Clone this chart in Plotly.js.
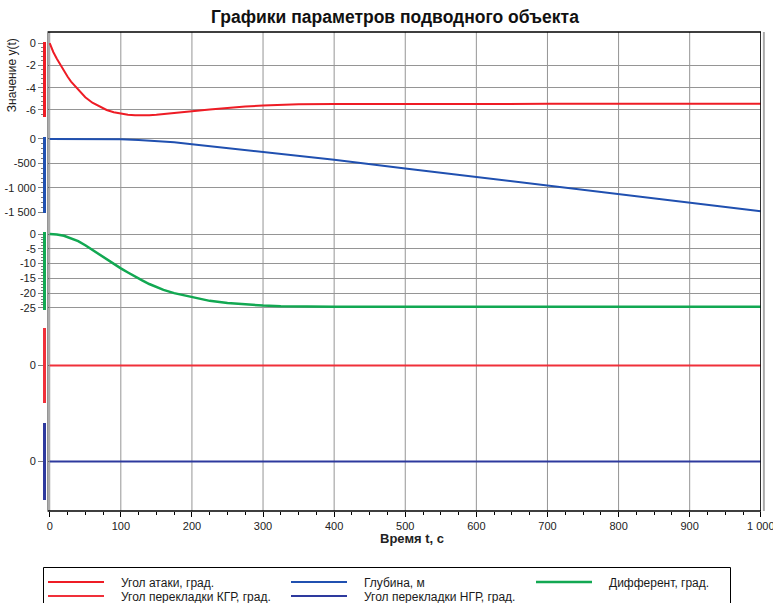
<!DOCTYPE html>
<html><head><meta charset="utf-8">
<script src="https://cdn.plot.ly/plotly-3.0.1.min.js"></script>
<style>html,body{margin:0;padding:0;background:#fff}#chart{width:773px;height:603px}</style>
</head><body><div id="chart"></div>
<script>
// ---- data ----
const tAttack = [0,5,10,15,20,25,30,40,50,60,70,80,90,100,110,120,130,140,150,175,200,225,250,275,300,325,350,400,450,500,600,700,800,900,1000];
const attack  = [0,-0.8,-1.4,-1.95,-2.5,-3.0,-3.45,-4.2,-4.85,-5.35,-5.7,-6.0,-6.2,-6.33,-6.42,-6.47,-6.48,-6.46,-6.42,-6.3,-6.12,-5.95,-5.8,-5.68,-5.6,-5.53,-5.49,-5.46,-5.45,-5.45,-5.45,-5.45,-5.45,-5.45,-5.45];
const tDepth = [0,25,50,75,100,125,150,175,200,225,250,275,300,350,400,500,600,700,800,900,1000];
const depth  = [0,0,-1,-3,-8,-20,-40,-70,-110,-150,-185,-218,-255,-340,-428,-603,-778,-953,-1128,-1303,-1478];
const tTrim = [0,10,20,30,40,50,60,70,80,90,100,110,120,130,140,150,160,175,200,225,250,275,300,325,350,400,500,600,700,800,900,1000];
const trim  = [0,-0.15,-0.6,-1.4,-2.4,-3.8,-5.4,-7.0,-8.6,-10.1,-11.6,-13.0,-14.4,-15.7,-16.9,-18.0,-18.9,-20.0,-21.3,-22.6,-23.3,-23.8,-24.2,-24.45,-24.55,-24.6,-24.6,-24.6,-24.6,-24.6,-24.6,-24.6];
const tRudder = [0,1000];
const kgr = [0,0];
const ngr = [0,0];

const xTickVals = [0,100,200,300,400,500,600,700,800,900,1000];
const xTickText = ["0","100","200","300","400","500","600","700","800","900","1 000"];
const y1TickVals = [0,-2,-4,-6];           const y1TickText = ["0","-2","-4","-6"];
const y2TickVals = [0,-500,-1000,-1500];   const y2TickText = ["0","-500","-1 000","-1 500"];
const y3TickVals = [0,-5,-10,-15,-20,-25]; const y3TickText = ["0","-5","-10","-15","-20","-25"];
const y4TickVals = [0]; const y4TickText = ["0"];
const y5TickVals = [0]; const y5TickText = ["0"];

const names = ["Угол атаки, град.","Глубина, м","Дифферент, град.","Угол перекладки КГР, град.","Угол перекладки НГР, град."];
const colors = ["#ee1c25","#2050b0","#12a852","#f0303a","#2e3a9e"];

const F = "Liberation Sans, Arial, sans-serif";
const traces = [
  {x:tAttack, y:attack, yaxis:"y",  name:names[0], legend:"legend",  line:{color:colors[0], width:2}},
  {x:tDepth,  y:depth,  yaxis:"y2", name:names[1], legend:"legend2", line:{color:colors[1], width:2}},
  {x:tTrim,   y:trim,   yaxis:"y3", name:names[2], legend:"legend3", line:{color:colors[2], width:2.5}},
  {x:tRudder, y:kgr,    yaxis:"y4", name:names[3], legend:"legend4", line:{color:colors[3], width:2}},
  {x:tRudder, y:ngr,    yaxis:"y5", name:names[4], legend:"legend5", line:{color:colors[4], width:2}}
].map(t => Object.assign({type:"scatter", mode:"lines", xaxis:"x", hoverinfo:"skip"}, t));

function yax(domain, range, color, tv, tt, minorDtick){
  const a = {domain:domain, range:range, anchor:"free", position:0, autorange:false,
    showline:true, linecolor:color, linewidth:3,
    ticks:"outside", ticklen:5, tickcolor:"#808080", tickwidth:1,
    tickmode:"array", tickvals:tv, ticktext:tt,
    tickfont:{family:F, size:11, color:"#222"},
    showgrid:true, gridcolor:"#959595", gridwidth:1, zeroline:false, fixedrange:true, automargin:false};
  if (minorDtick) a.minor = {ticks:"outside", ticklen:2, tickcolor:"#808080", dtick:minorDtick, tick0:0, showgrid:false};
  return a;
}

const xr = [-3, 1000.3];
const shapes = xTickVals.map(v => ({type:"line", xref:"x", yref:"paper", x0:v, x1:v, y0:0, y1:1, line:{color:"#959595", width:1}, layer:"below"}));
shapes.push({type:"rect", xref:"x", yref:"paper", x0:xr[0], x1:xr[1], y0:0, y1:1, line:{color:"#000", width:1.5}});
shapes.push({type:"line", xref:"paper", yref:"paper", x0:1.004, x1:1.004, y0:0, y1:1, line:{color:"#aaa", width:2}});
// legend frame (paper coords: plot area spans x 44..761, y 32..511 px)
shapes.push({type:"rect", xref:"paper", yref:"paper", x0:(43.5-44)/717, x1:(730.5-44)/717, y0:(511-620)/479, y1:(511-567.5)/479, line:{color:"#000", width:1}, fillcolor:"rgba(0,0,0,0)"});

function leg(xpx, rowY){
  return {orientation:"v", xref:"container", x:xpx/773, xanchor:"left", yref:"container", y:1-(rowY-12.5)/603, yanchor:"top",
    borderwidth:0, bgcolor:"rgba(0,0,0,0)", font:{family:F, size:12, color:"#1a1a1a"}, itemwidth:68, tracegroupgap:0};
}

const layout = {
  width:773, height:603,
  margin:{l:44, r:12, t:32, b:92, pad:0, autoexpand:false},
  paper_bgcolor:"#fff", plot_bgcolor:"#fff",
  showlegend:true,
  title:{text:"Графики параметров подводного объекта", font:{family:F, size:17.5, color:"#111", weight:"bold"},
         xref:"container", x:0.511, xanchor:"center", yref:"container", y:0.972, yanchor:"middle"},
  xaxis:{domain:[0.005,1], range:xr, anchor:"free", position:0, showgrid:false, zeroline:false,
    showline:false, ticks:"outside", ticklen:5, tickcolor:"#000", tickwidth:1,
    tickmode:"array", tickvals:xTickVals, ticktext:xTickText, ticklabeloverflow:"allow",
    tickfont:{family:F, size:11, color:"#222"}, automargin:false,
    minor:{ticks:"outside", ticklen:3, tickcolor:"#000", dtick:25, tick0:0, showgrid:false}, fixedrange:true},
  yaxis:  yax([0.8225,0.979], [-6.63,0.09], colors[0], y1TickVals, y1TickText, 0.4),
  yaxis2: yax([0.622,0.781],  [-1515,41],  colors[1], y2TickVals, y2TickText, 100),
  yaxis3: yax([0.4196,0.5825],[-25.7,0.7], colors[2], y3TickVals, y3TickText, 1),
  yaxis4: yax([0.2255,0.382], [-1,1],      colors[3], y4TickVals, y4TickText, null),
  yaxis5: yax([0.023,0.1837], [-1,1],      colors[4], y5TickVals, y5TickText, null),
  shapes: shapes,
  annotations:[
    {text:"Значение y(t)", xref:"paper", yref:"paper", x:-0.0446, y:0.91, textangle:-90, showarrow:false,
     font:{family:F, size:12, color:"#222"}, xanchor:"center", yanchor:"middle"},
    {text:"Время t, с", xref:"paper", yref:"paper", x:0.513, y:-0.0564, showarrow:false,
     font:{family:F, size:13, color:"#222", weight:"bold"}, xanchor:"center", yanchor:"middle"}
  ],
  legend:  leg(43, 580),
  legend2: leg(286, 580),
  legend3: leg(531, 580),
  legend4: leg(43, 594),
  legend5: leg(286, 594)
};

Plotly.newPlot("chart", traces, layout, {staticPlot:true, displayModeBar:false}).then(() => {
  document.querySelectorAll(".legendlines path").forEach(p => {
    const d = p.getAttribute("d");
    if (d) p.setAttribute("d", d.replace(/h[\d.]+/, "h56"));
  });
});
</script></body></html>
